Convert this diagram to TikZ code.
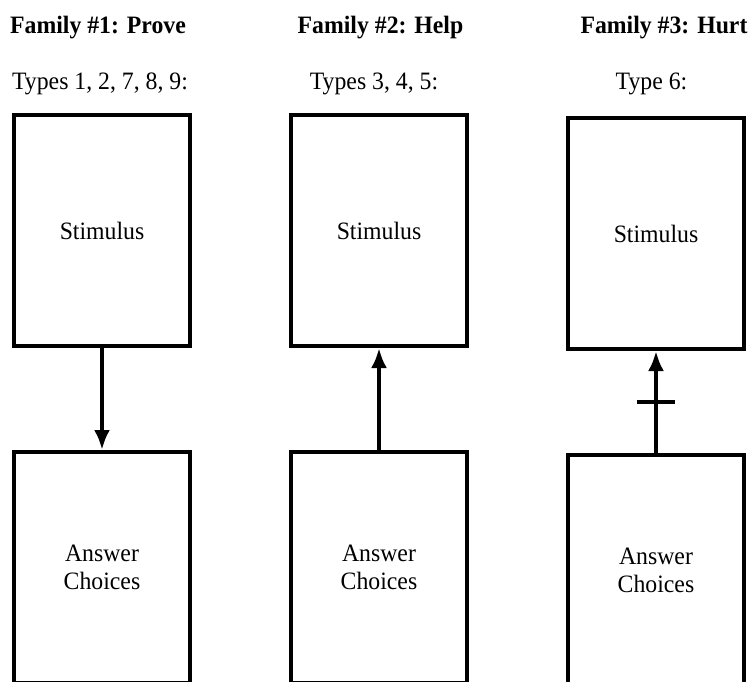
\documentclass[tikz,border=0pt]{standalone}
\usepackage{fontspec}
\setmainfont{Liberation Serif}[FakeStretch=0.95]
\usetikzlibrary{positioning,arrows.meta}

\begin{document}
\begin{tikzpicture}[x=1pt, y=1pt, node distance=102pt and 97pt,
        box/.style={rectangle, draw, line width=4pt, minimum width=176pt, minimum height=231pt, inner sep=0pt, align=center, font=\fontsize{25pt}{28pt}\selectfont},
        head/.style={anchor=base, font=\fontsize{25pt}{28pt}\selectfont\bfseries},
        sub/.style={anchor=base, font=\fontsize{25pt}{28pt}\selectfont},
        line/.style={draw, line width=4pt, -{Latex[length=20pt,width=16pt]}}]

        \clip (0,0) rectangle (748,-681);

        \node [box] (stim1) at (102,-230.5) {Stimulus};
        \node [box, below=of stim1] (ans1) {Answer\\Choices};
        \node [box, right=of stim1] (stim2) {Stimulus};
        \node [box, below=of stim2] (ans2) {Answer\\Choices};
        \node [box, right=of stim2, yshift=-3pt] (stim3) {Stimulus};
        \node [box, below=of stim3] (ans3) {Answer\\Choices};

        \node [head] (fam1) at ([xshift=-4pt, yshift=80pt]stim1.north) {Family \#1: Prove};
        \node [sub] (types1) at ([xshift=-2pt, yshift=24pt]stim1.north) {Types 1, 2, 7, 8, 9:};
        \node [head] (fam2) at ([xshift=1.5pt, yshift=80pt]stim2.north) {Family \#2: Help};
        \node [sub] (types2) at ([xshift=-5pt, yshift=24pt]stim2.north) {Types 3, 4, 5:};
        \node [head] (fam3) at ([xshift=8pt, yshift=83pt]stim3.north) {Family \#3: Hurt};
        \node [sub] (types3) at ([xshift=-4.5pt, yshift=27pt]stim3.north) {Type 6:};

        \path [line] (stim1) -- (ans1);
        \path [line] (ans2) -- (stim2);
        \path [line] (ans3) -- (stim3) node [midway, minimum width=38pt, inner sep=0pt, outer sep=0pt] (bar) {};
        \draw [line width=4pt] (bar.west) -- (bar.east); % the cross bar
    \end{tikzpicture}
\end{document}
